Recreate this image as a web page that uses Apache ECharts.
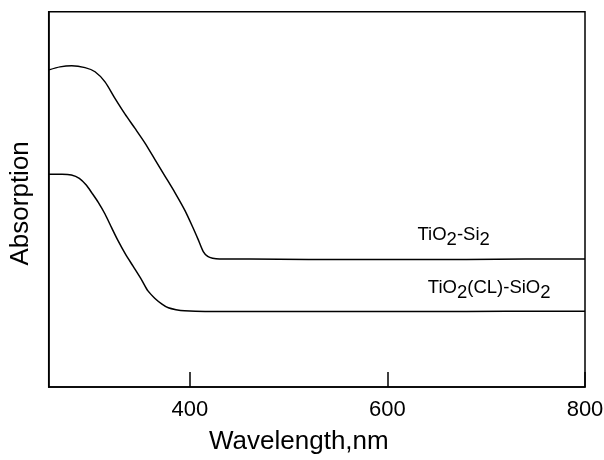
<!DOCTYPE html>
<html>
<head>
<meta charset="utf-8">
<script src="https://cdn.jsdelivr.net/npm/echarts@6/dist/echarts.min.js"></script>
<style>
  html, body { margin: 0; padding: 0; background: #fff; }
  #chart { width: 604px; height: 460px; }
</style>
</head>
<body>
<div id="chart"></div>
<script>
// UV-Vis absorption spectra (arbitrary units), wavelength in nm
const wavelengthTicks = [400, 600, 800];

const tio2Si2Wavelength = [257.3, 268.4, 280.3, 293.8, 303.9, 314.0, 324.1, 334.3, 344.4, 354.5,
  364.6, 374.7, 384.8, 395.0, 403.0, 408.5, 413.5, 418.0, 423.0, 430.0, 460.8, 520, 600, 680, 740, 800];
const tio2Si2Absorption = [84.5, 85.3, 85.6, 85.1, 84.0, 81.3, 76.9, 72.7, 68.9, 65.0,
  60.6, 56.2, 51.8, 47.0, 42.5, 39.2, 36.1, 34.8, 34.3, 34.1, 34.1, 34.0, 34.0, 34.0, 34.1, 34.1];

const tio2ClSio2Wavelength = [257.3, 270.5, 280.0, 288.0, 295.0, 301.0, 307.2, 314.0, 320.8, 327.2, 334.3,
  342.4, 351.2, 357.5, 364.6, 371.7, 378.1, 385.9, 394.5, 415.3, 480, 560, 640, 720, 800];
const tio2ClSio2Absorption = [56.7, 56.7, 56.5, 55.6, 53.8, 51.6, 49.2, 46.1, 42.4, 39.0, 35.6,
  32.2, 28.5, 25.6, 23.6, 22.1, 21.1, 20.6, 20.3, 20.1, 20.1, 20.1, 20.1, 20.2, 20.2];

// curve annotations: [wavelength, absorption] anchor for each label
const tio2Si2LabelAt = [667, 34.1];
const tio2ClSio2LabelAt = [703, 20.1];

const zip = (xs, ys) => xs.map((x, i) => [x, ys[i]]);

const FONT = '"Liberation Sans", Arial, Helvetica, sans-serif';
const rich = {
  n: { fontSize: 18.5, fontFamily: FONT, color: '#000', verticalAlign: 'bottom', lineHeight: 20 },
  s: { fontSize: 18.5, fontFamily: FONT, color: '#000', verticalAlign: 'bottom', lineHeight: 20, padding: [0, 0, -5, 0] }
};

function curveLabel(at, text) {
  return {
    symbol: 'circle',
    symbolSize: 1,
    silent: true,
    itemStyle: { color: 'rgba(0,0,0,0)' },
    data: [{ coord: at, value: '' }],
    label: {
      show: true,
      position: 'top',
      distance: 14,
      formatter: text,
      rich: rich
    }
  };
}

const chart = echarts.init(document.getElementById('chart'), null, { renderer: 'canvas' });

chart.setOption({
  animation: false,
  backgroundColor: '#fff',
  grid: {
    left: 48.7, right: 19, top: 11.7, bottom: 73,
    show: true, borderColor: '#000', borderWidth: 1.5,
    outerBoundsMode: 'none', containLabel: false
  },
  xAxis: {
    type: 'value',
    min: 257,
    max: 800,
    name: 'Wavelength,nm',
    nameLocation: 'middle',
    nameGap: 42,
    nameTextStyle: { fontSize: 26, fontFamily: FONT, color: '#000', padding: [0, 36, 0, 0] },
    axisLine: { show: true, lineStyle: { color: '#000', width: 1.5 } },
    axisTick: { show: true, inside: true, length: 15, customValues: wavelengthTicks, lineStyle: { color: '#000', width: 1.5 } },
    axisLabel: { show: true, customValues: wavelengthTicks, margin: 12, fontSize: 22, fontFamily: FONT, color: '#000' },
    splitLine: { show: false }
  },
  yAxis: {
    type: 'value',
    min: 0,
    max: 100,
    name: 'Absorption',
    nameLocation: 'middle',
    nameGap: 15,
    nameTextStyle: { fontSize: 26, fontFamily: FONT, color: '#000', padding: [0, 8, 0, 0] },
    axisLine: { show: true, lineStyle: { color: '#000', width: 1.5 } },
    axisTick: { show: false },
    axisLabel: { show: false },
    splitLine: { show: false }
  },
  series: [
    {
      name: 'TiO2-Si2',
      type: 'line',
      smooth: 0.25,
      showSymbol: false,
      lineStyle: { color: '#000', width: 1.5 },
      data: zip(tio2Si2Wavelength, tio2Si2Absorption),
      markPoint: curveLabel(tio2Si2LabelAt, '{n|TiO}{s|2}{n|-Si}{s|2}')
    },
    {
      name: 'TiO2(CL)-SiO2',
      type: 'line',
      smooth: 0.25,
      showSymbol: false,
      lineStyle: { color: '#000', width: 1.5 },
      data: zip(tio2ClSio2Wavelength, tio2ClSio2Absorption),
      markPoint: curveLabel(tio2ClSio2LabelAt, '{n|TiO}{s|2}{n|(CL)-SiO}{s|2}')
    }
  ]
});
</script>
</body>
</html>
